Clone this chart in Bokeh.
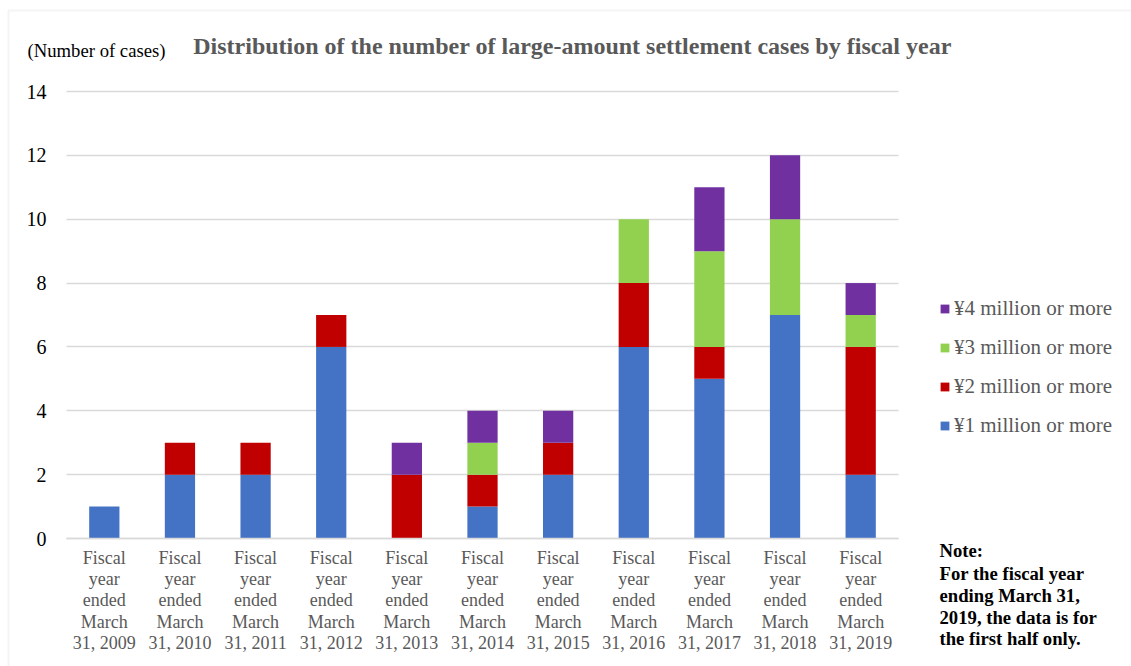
from bokeh.plotting import figure
from bokeh.models import (ColumnDataSource, Legend, LegendItem, Label, BoxAnnotation,
                          LinearAxis, FixedTicker, Grid, Range1d)
from bokeh.embed import file_html
from bokeh.resources import INLINE

years = ["2009", "2010", "2011", "2012", "2013", "2014", "2015", "2016", "2017", "2018", "2019"]
categories = ["Fiscal\nyear\nended\nMarch\n31, " + y for y in years]
m1 = [1, 2, 2, 6, 0, 1, 2, 6, 5, 7, 2]
m2 = [0, 1, 1, 1, 2, 1, 1, 2, 1, 0, 4]
m3 = [0, 0, 0, 0, 0, 1, 0, 2, 3, 3, 1]
m4 = [0, 0, 0, 0, 1, 1, 1, 0, 2, 2, 1]
y_ticks = [0, 2, 4, 6, 8, 10, 12, 14]
series_names = ["¥1 million or more", "¥2 million or more", "¥3 million or more", "¥4 million or more"]
colors = ["#4472C4", "#C00000", "#92D050", "#7030A0"]
keys = ["m1", "m2", "m3", "m4"]
title_text = "Distribution of the number of large-amount settlement cases by fiscal year"
ylabel_text = "(Number of cases)"
note_lines = ["Note:", "For the fiscal year", "ending March 31,", "2019, the data is for", "the first half only."]

SERIF = "Liberation Serif"
W, H = 1131, 666
FL, FR, FB, FT = 66, 898, 538, 91  # plot area in canvas px
n = len(categories)
YMAX = 14
sx = (FR - FL) / n
sy = (FB - FT) / YMAX


def dx(px):
    return (px - FL) / sx


def dy(py):
    return (FB - py) / sy


xpos = [i + 0.5 for i in range(n)]
source = ColumnDataSource(dict(x=xpos, m1=m1, m2=m2, m3=m3, m4=m4))

p = figure(width=W, height=H, output_backend="svg", toolbar_location=None,
           x_range=Range1d(dx(0), dx(W)), y_range=Range1d(dy(H), dy(0)),
           x_axis_location=None, y_axis_location=None,
           min_border=0)
p.outline_line_color = None
p.grid.visible = False

grid = Grid(dimension=1, ticker=FixedTicker(ticks=y_ticks), cross_bounds=(0, n),
            grid_line_color="#d9d9d9", grid_line_width=1.5)
p.add_layout(grid)

renderers = p.vbar_stack(keys, x="x", width=0.4, color=colors, source=source, line_color=None)

yaxis = LinearAxis(fixed_location=0, ticker=FixedTicker(ticks=y_ticks), bounds=(0, YMAX))
yaxis.axis_line_color = None
yaxis.major_tick_line_color = None
yaxis.minor_tick_line_color = None
yaxis.major_tick_out = 0
yaxis.major_tick_in = 0
yaxis.major_label_standoff = 20
yaxis.major_label_text_font = SERIF
yaxis.major_label_text_font_size = "20px"
yaxis.major_label_text_color = "#000000"
p.add_layout(yaxis, "left")

xaxis = LinearAxis(fixed_location=0, ticker=FixedTicker(ticks=xpos), bounds=(0, n),
                   major_label_overrides={x: c for x, c in zip(xpos, categories)})
xaxis.axis_line_color = "#d9d9d9"
xaxis.axis_line_width = 1.5
xaxis.major_tick_line_color = None
xaxis.minor_tick_line_color = None
xaxis.major_tick_out = 0
xaxis.major_tick_in = 0
xaxis.major_label_standoff = 9
xaxis.major_label_text_font = SERIF
xaxis.major_label_text_font_size = "18px"
xaxis.major_label_text_color = "#595959"
xaxis.major_label_text_line_height = 1.07
p.add_layout(xaxis, "below")

items = [LegendItem(label=series_names[i], renderers=[renderers[i]]) for i in range(3, -1, -1)]
legend = Legend(items=items, location=(939, H - 438), orientation="vertical",
                glyph_width=11, glyph_height=11, label_height=20, spacing=14,
                label_standoff=4, padding=0, margin=0,
                border_line_color=None, background_fill_alpha=0,
                label_text_font=SERIF, label_text_font_size="21px", label_text_color="#595959")
p.add_layout(legend, "center")

p.add_layout(Label(x=dx(572), y=dy(45), text=title_text,
                   text_font=SERIF, text_font_size="24px", text_font_style="bold",
                   text_color="#595959", text_align="center", text_baseline="middle"))
p.add_layout(Label(x=dx(27), y=dy(50), text=ylabel_text,
                   text_font=SERIF, text_font_size="18.7px", text_color="#000000",
                   text_align="left", text_baseline="middle"))

note_y = [550, 573, 595, 617, 638]
for t, cy in zip(note_lines, note_y):
    p.add_layout(Label(x=dx(939), y=dy(cy), text=t,
                       text_font=SERIF, text_font_size="18.7px", text_font_style="bold",
                       text_color="#000000", text_align="left", text_baseline="middle"))

p.add_layout(BoxAnnotation(left=dx(8), right=dx(W + 50), top=dy(10), bottom=dy(H + 50),
                           fill_alpha=0, line_color="#d9d9d9", line_width=2))

open("out.html", "w").write(file_html(p, INLINE))
